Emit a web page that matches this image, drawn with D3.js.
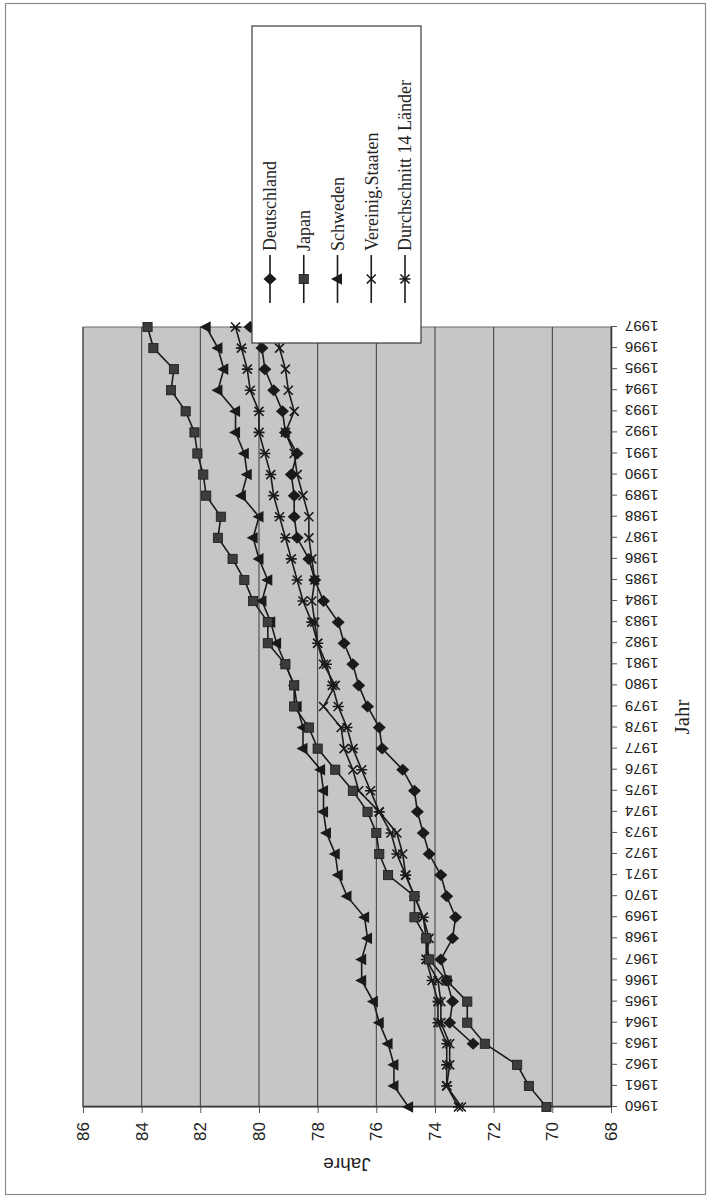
<!DOCTYPE html>
<html><head><meta charset="utf-8">
<script src="https://cdn.jsdelivr.net/npm/d3@7"></script>
<style>html,body{margin:0;padding:0;background:#fff}svg{display:block}</style>
</head><body>
<script>
const years = [1960,1961,1962,1963,1964,1965,1966,1967,1968,1969,1970,1971,1972,1973,1974,1975,1976,1977,1978,1979,1980,1981,1982,1983,1984,1985,1986,1987,1988,1989,1990,1991,1992,1993,1994,1995,1996,1997];
const deutschland = [null,null,null,72.7,73.5,73.4,73.6,73.8,73.4,73.3,73.6,73.8,74.2,74.4,74.6,74.7,75.1,75.8,75.9,76.3,76.6,76.8,77.1,77.3,77.8,78.1,78.3,78.7,78.8,78.8,78.9,78.7,79.1,79.2,79.5,79.8,79.9,80.3];
const japan = [70.2,70.8,71.2,72.3,72.9,72.9,73.6,74.2,74.3,74.7,74.7,75.6,75.9,76.0,76.3,76.8,77.4,78.0,78.3,78.8,78.8,79.1,79.7,79.7,80.2,80.5,80.9,81.4,81.3,81.8,81.9,82.1,82.2,82.5,83.0,82.9,83.6,83.8];
const schweden = [74.9,75.4,75.4,75.6,75.9,76.1,76.5,76.5,76.3,76.4,77.0,77.3,77.4,77.7,77.8,77.8,77.9,78.5,78.5,78.7,78.8,79.1,79.4,79.6,79.9,79.7,80.0,80.2,80.0,80.6,80.4,80.5,80.8,80.8,81.4,81.2,81.4,81.8];
const usa = [73.1,73.6,73.5,73.5,73.8,73.8,73.9,74.3,74.2,74.4,74.7,75.0,75.1,75.3,75.9,76.6,76.8,77.1,77.2,77.8,77.4,77.8,78.0,78.1,78.2,78.1,78.2,78.3,78.3,78.5,78.7,78.8,79.1,78.8,79.0,79.1,79.3,79.4];
const durchschnitt = [73.2,73.6,73.6,73.6,73.9,73.9,74.1,74.3,74.3,74.4,74.7,75.0,75.3,75.5,75.9,76.2,76.5,76.8,77.0,77.3,77.5,77.7,78.0,78.2,78.5,78.7,78.9,79.1,79.3,79.5,79.6,79.8,80.0,80.0,80.3,80.4,80.6,80.8];
const seriesNames = ["Deutschland","Japan","Schweden","Vereinig.Staaten","Durchschnitt 14 Länder"];
const yTicks = [68,70,72,74,76,78,80,82,84,86];
const xTitle = "Jahr";
const yTitle = "Jahre";

const series = [
  {name: seriesNames[0], values: deutschland, marker: "diamond"},
  {name: seriesNames[1], values: japan, marker: "square"},
  {name: seriesNames[2], values: schweden, marker: "triangle"},
  {name: seriesNames[3], values: usa, marker: "x"},
  {name: seriesNames[4], values: durchschnitt, marker: "star"}
];

const PW = 712, PH = 1197;          // page
const W = PH, H = PW;               // landscape chart (rotated onto page)
const svg = d3.select("body").append("svg").attr("width", PW).attr("height", PH);
const g = svg.append("g").attr("transform", `translate(0,${PH}) rotate(-90)`);

// outer frame
g.append("rect").attr("x", 2.5).attr("y", 5.5).attr("width", 1191).attr("height", 700)
  .attr("fill", "#fff").attr("stroke", "#8a8a8a").attr("stroke-width", 1.2);

const plot = {x0: 90, x1: 870, y0: 83, y1: 611};
const x = d3.scaleLinear().domain([years[0], years[years.length-1]]).range([plot.x0, plot.x1]);
const y = d3.scaleLinear().domain([68, 86]).range([plot.y1, plot.y0]);

g.append("rect").attr("x", plot.x0).attr("y", plot.y0)
  .attr("width", plot.x1 - plot.x0).attr("height", plot.y1 - plot.y0)
  .attr("fill", "#c6c6c6").attr("stroke", "#6a6a6a").attr("stroke-width", 1);

// gridlines
g.append("g").selectAll("line").data(yTicks.filter(v => v > 68)).join("line")
  .attr("x1", plot.x0).attr("x2", plot.x1)
  .attr("y1", d => y(d)).attr("y2", d => y(d))
  .attr("stroke", "#3a3a3a").attr("stroke-width", 1);

// x axis (years)
const xAxis = g.append("g").attr("transform", `translate(0,${plot.y1})`)
  .call(d3.axisBottom(x).tickValues(years).tickFormat(d3.format("d")).tickSize(6).tickSizeOuter(0));
xAxis.select(".domain").attr("stroke", "#333").attr("stroke-width", 1.5);
xAxis.selectAll(".tick line").attr("stroke", "#555");
xAxis.selectAll("text")
  .attr("transform", "rotate(-90)")
  .attr("x", -14).attr("y", 0).attr("dy", "0.36em")
  .attr("text-anchor", "end")
  .attr("font-family", "Liberation Sans, Arial, sans-serif").attr("font-size", 15).attr("fill", "#222");

// y axis (values)
const yAxis = g.append("g").attr("transform", `translate(${plot.x0},0)`)
  .call(d3.axisLeft(y).tickValues(yTicks).tickSize(6).tickSizeOuter(0));
yAxis.select(".domain").attr("stroke", "#333").attr("stroke-width", 1.5);
yAxis.selectAll(".tick line").attr("stroke", "#555");
yAxis.selectAll("text").attr("x", -15)
  .attr("font-family", "Liberation Sans, Arial, sans-serif").attr("font-size", 17).attr("fill", "#222");

// axis titles
g.append("text").attr("transform", `translate(32,${(plot.y0+plot.y1)/2}) rotate(-90)`)
  .attr("text-anchor", "middle").attr("dy", "0.35em")
  .attr("font-family", "Liberation Sans, Arial, sans-serif").attr("font-size", 19).attr("fill", "#222")
  .text(yTitle);
g.append("text").attr("x", (plot.x0+plot.x1)/2).attr("y", 682).attr("dy", "0.35em")
  .attr("text-anchor", "middle")
  .attr("font-family", "Liberation Serif, Times New Roman, serif").attr("font-size", 21).attr("fill", "#222")
  .text(xTitle);

// markers
function drawMarker(sel, type) {
  if (type === "diamond") {
    sel.append("path").attr("d", "M0,-6.5L6,0L0,6.5L-6,0Z").attr("fill", "#1a1a1a");
  } else if (type === "square") {
    sel.append("rect").attr("x", -4.6).attr("y", -4.6).attr("width", 9.2).attr("height", 9.2)
      .attr("fill", "#3c3c3c").attr("stroke", "#1a1a1a").attr("stroke-width", 0.8);
  } else if (type === "triangle") {
    sel.append("path").attr("d", "M0,-6.5L5.8,4.5L-5.8,4.5Z").attr("fill", "#1a1a1a");
  } else if (type === "x") {
    sel.append("path").attr("d", "M-4.5,-4.5L4.5,4.5M-4.5,4.5L4.5,-4.5")
      .attr("stroke", "#1a1a1a").attr("stroke-width", 1.6).attr("fill", "none");
  } else if (type === "star") {
    sel.append("path").attr("d", "M-4.5,-4.5L4.5,4.5M-4.5,4.5L4.5,-4.5M0,-5.5L0,5.5")
      .attr("stroke", "#1a1a1a").attr("stroke-width", 1.6).attr("fill", "none");
  }
}

const line = d3.line().defined(d => d.v != null).x(d => x(d.year)).y(d => y(d.v));
const seriesG = g.append("g");
series.slice().reverse().forEach(s => {
  const pts = years.map((yr, i) => ({year: yr, v: s.values[i]}));
  seriesG.append("path").datum(pts).attr("d", line)
    .attr("fill", "none").attr("stroke", "#1a1a1a").attr("stroke-width", 1.6);
  seriesG.append("g").selectAll("g").data(pts.filter(d => d.v != null)).join("g")
    .attr("transform", d => `translate(${x(d.year)},${y(d.v)})`)
    .each(function() { drawMarker(d3.select(this), s.marker); });
});

// legend
const leg = {x0: 854, x1: 1171, y0: 252, y1: 421};
g.append("rect").attr("x", leg.x0).attr("y", leg.y0)
  .attr("width", leg.x1 - leg.x0).attr("height", leg.y1 - leg.y0)
  .attr("fill", "#fff").attr("stroke", "#3a3a3a").attr("stroke-width", 1.2);
const legY = d3.scalePoint().domain(seriesNames).range([270, 405]);
series.forEach(s => {
  const ly = legY(s.name);
  const lg = g.append("g");
  lg.append("line").attr("x1", 894).attr("x2", 942).attr("y1", ly).attr("y2", ly)
    .attr("stroke", "#1a1a1a").attr("stroke-width", 1.6);
  const mg = lg.append("g").attr("transform", `translate(918,${ly})`);
  drawMarker(mg, s.marker);
  lg.append("text").attr("x", 946).attr("y", ly).attr("dy", "0.35em")
    .attr("font-family", "Liberation Serif, Times New Roman, serif").attr("font-size", 18).attr("fill", "#222")
    .text(s.name);
});
</script>
</body></html>
